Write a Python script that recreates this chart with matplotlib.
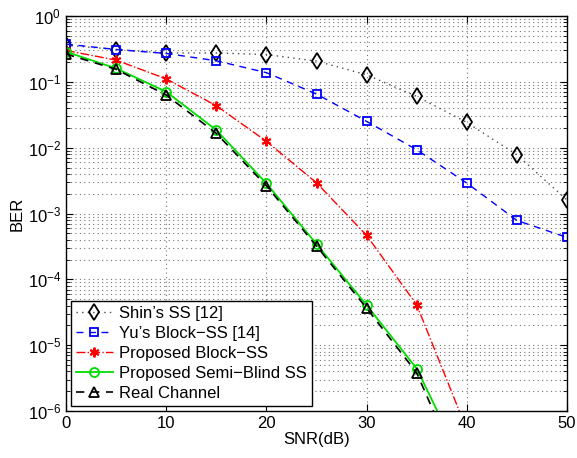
import matplotlib
matplotlib.use("Agg")
import matplotlib.pyplot as plt
from matplotlib.ticker import LogLocator, FixedLocator, NullFormatter

plt.rcParams['font.family'] = ['Liberation Sans', 'DejaVu Sans']
plt.rcParams['mathtext.fontset'] = 'custom'
plt.rcParams['mathtext.rm'] = 'Liberation Sans'
plt.rcParams['mathtext.it'] = 'Liberation Sans'

snr = [0, 5, 10, 15, 20, 25, 30, 35, 40, 45, 50]
shin = [0.36, 0.31, 0.275, 0.275, 0.26, 0.207, 0.128, 0.0602, 0.0242, 0.0078, 0.0016]
yu = [0.375, 0.31, 0.27, 0.209, 0.138, 0.0653, 0.0251, 0.0093, 0.0029, 0.000785, 0.000433]

snr_p = [0, 5, 10, 15, 20, 25, 30, 35, 40]
block = [0.30, 0.214, 0.111, 0.0434, 0.0125, 0.00293, 0.000465, 4.1e-5, 5.2e-7]
semi = [0.287, 0.16, 0.0708, 0.0185, 0.00287, 0.000343, 4.05e-5, 4.4e-6, 1.2e-7]
real = [0.265, 0.155, 0.063, 0.0165, 0.00263, 0.00032, 3.65e-5, 3.8e-6, 6.8e-8]

labels = ["Shin\u2019s SS [12]", "Yu\u2019s Block\u2212SS [14]", "Proposed Block\u2212SS",
          "Proposed Semi\u2212Blind SS", "Real Channel"]
xticks = [0, 10, 20, 30, 40, 50]

fig = plt.figure(figsize=(5.77, 4.58), dpi=100)
ax = fig.add_axes([0.1144, 0.1026, 0.8683, 0.8624])

ax.semilogy(snr, shin, linestyle=(0, (1, 3)), color='0.3', lw=1.0, marker='d', ms=8,
            mfc='none', mec='black', mew=1.3, label=labels[0])
ax.semilogy(snr, yu, linestyle=(0, (5, 4)), color='blue', lw=1.0, marker='s', ms=6,
            mfc='none', mec='blue', mew=1.3, label=labels[1])
ax.semilogy(snr_p, block, linestyle='-.', color='red', lw=1.0, marker=(6, 2, 0), ms=7,
            mfc='red', mec='red', mew=1.4, label=labels[2])
ax.semilogy(snr_p, semi, linestyle='-', color='#00dd00', lw=1.3, marker='o', ms=6.5,
            mfc='none', mec='#00dd00', mew=1.3, label=labels[3])
ax.semilogy(snr_p, real, linestyle=(0, (5, 4)), color='black', lw=1.2, marker='^', ms=7.5,
            mfc='none', mec='black', mew=1.3, label=labels[4])

ax.set_xlim(0, 50)
ax.set_ylim(1e-6, 1)
ax.xaxis.set_major_locator(FixedLocator(xticks))
ax.yaxis.set_major_locator(LogLocator(base=10, numticks=20))
ax.yaxis.set_minor_locator(LogLocator(base=10, subs=range(2, 10), numticks=20))
ax.yaxis.set_minor_formatter(NullFormatter())
ax.grid(True, which='major', linestyle=(0, (1, 3)), color='0.45', lw=0.8)
ax.grid(True, which='minor', axis='y', linestyle=(0, (1, 3)), color='0.45', lw=0.8)
ax.tick_params(which='both', direction='in', top=True, right=True, labelsize=12)
ax.tick_params(which='major', length=5)
ax.tick_params(which='minor', length=3)
for s in ax.spines.values():
    s.set_linewidth(1.0)

ax.set_xlabel('SNR(dB)', fontsize=12, labelpad=1)
ax.set_ylabel('BER', fontsize=12, labelpad=2)

leg = ax.legend(loc='lower left', fontsize=12, handlelength=2.2, handletextpad=0.4,
                labelspacing=0.3, borderpad=0.3, fancybox=False, framealpha=1,
                edgecolor='black', borderaxespad=0.3)
leg.get_frame().set_linewidth(1.0)

fig.savefig('out.png', dpi=100)
